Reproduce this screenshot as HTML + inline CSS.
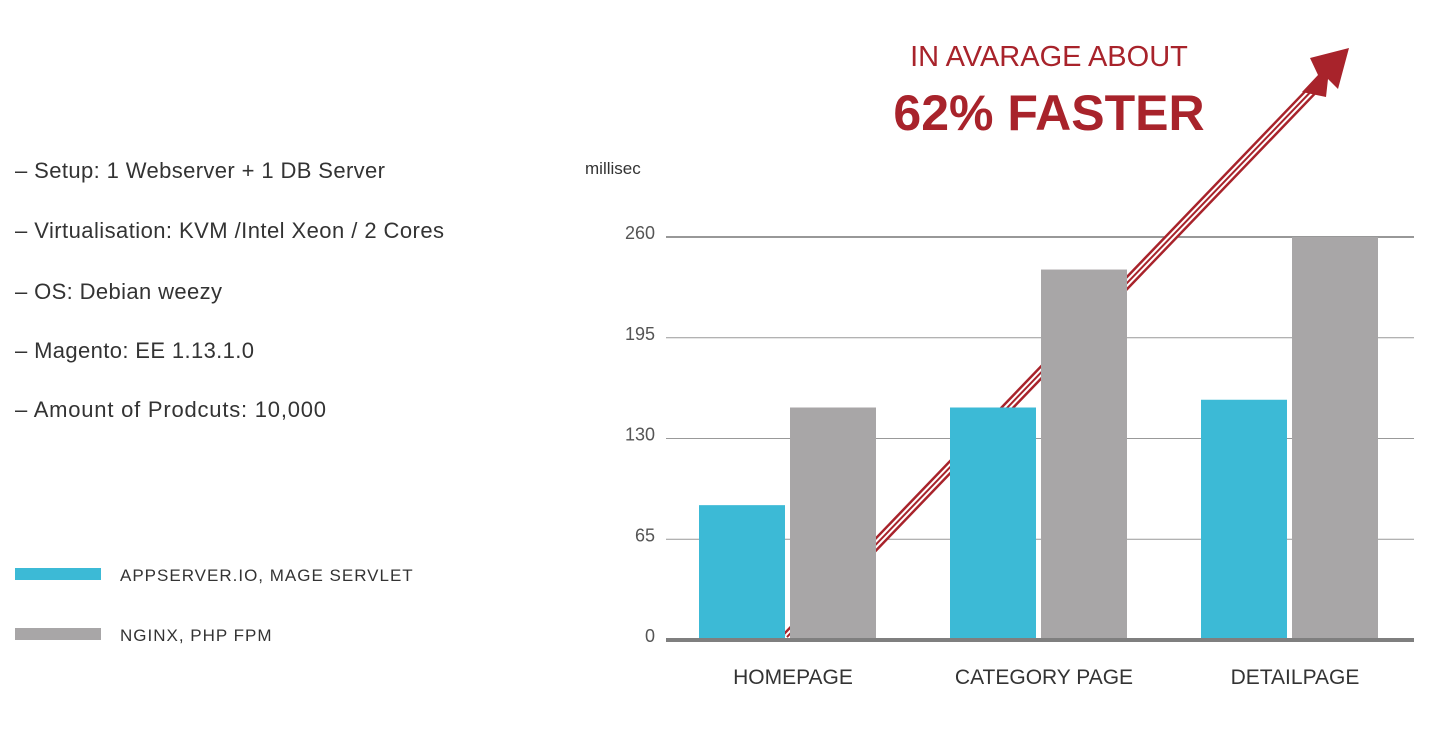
<!DOCTYPE html>
<html><head><meta charset="utf-8"><style>
body{margin:0;width:1435px;height:728px;background:#fff;font-family:"Liberation Sans",sans-serif;overflow:hidden}
svg text{font-family:"Liberation Sans",sans-serif}
</style></head><body>
<svg width="1435" height="728">
<g font-size="22" fill="#333">
<text x="15" y="178" textLength="370">–  Setup: 1 Webserver + 1 DB Server</text>
<text x="15" y="238" textLength="429">–  Virtualisation: KVM /Intel Xeon / 2 Cores</text>
<text x="15" y="299" textLength="207">–  OS: Debian weezy</text>
<text x="15" y="358" textLength="239">–  Magento: EE 1.13.1.0</text>
<text x="15" y="417" textLength="311">–  Amount of Prodcuts: 10,000</text>
</g>
<g font-size="17" fill="#333" letter-spacing="1">
<rect x="15" y="568" width="86" height="12" fill="#3cbad6"/>
<text x="120" y="581">APPSERVER.IO, MAGE SERVLET</text>
<rect x="15" y="628" width="86" height="12" fill="#a8a6a7"/>
<text x="120" y="641">NGINX, PHP FPM</text>
</g>
<text x="1049" y="66" text-anchor="middle" font-size="29" fill="#a8232b">IN AVARAGE ABOUT</text>
<text x="1049" y="130" text-anchor="middle" font-size="50" font-weight="bold" fill="#a8232b">62% FASTER</text>
<text x="585" y="174" font-size="17" fill="#333">millisec</text>
<g id="grid"></g>
<g id="arrow">
<line x1="787" y1="637" x2="1322" y2="80" stroke="#a8232b" stroke-width="11"/>
<line x1="787" y1="637" x2="1322" y2="80" stroke="#fff" stroke-width="6"/>
<line x1="787" y1="637" x2="1322" y2="80" stroke="#a8232b" stroke-width="2"/>
<polygon points="1349,48 1338,89 1328,79 1326,97 1302,92 1318,75 1310,58" fill="#a8232b"/>
</g>
<g id="bars"></g>
<rect x="666" y="638" width="748" height="4" fill="#7f7f7f"/>
<g id="xlabels" font-size="21" fill="#333"></g>
</svg>
<script>
const categories=["HOMEPAGE","CATEGORY PAGE","DETAILPAGE"];
const appserver=[87,150,155];
const nginx=[150,239,260];
const ticks=[0,65,130,195,260];
const NS="http://www.w3.org/2000/svg";
const y=v=>640-v*(403/260);
const grid=document.getElementById('grid'),bars=document.getElementById('bars'),xl=document.getElementById('xlabels');
ticks.forEach(t=>{
 if(t>0){const l=document.createElementNS(NS,'line');l.setAttribute('x1',666);l.setAttribute('x2',1414);l.setAttribute('y1',y(t));l.setAttribute('y2',y(t));l.setAttribute('stroke',t===260?'#777':'#999');l.setAttribute('stroke-width',t===260?1.5:1);
 
 
 grid.appendChild(l);}
 const tx=document.createElementNS(NS,'text');tx.setAttribute('x',655);tx.setAttribute('y',y(t)+2);tx.setAttribute('text-anchor','end');tx.setAttribute('font-size',18);tx.setAttribute('fill','#555');tx.textContent=t;
 
 
 grid.appendChild(tx);
});
categories.forEach((c,i)=>{
 const x0=699+i*251;
 [[appserver[i],'#3cbad6',0,'bar-appserver'],[nginx[i],'#a8a6a7',91,'bar-nginx']].forEach(([v,col,dx,nm])=>{
  const r=document.createElementNS(NS,'rect');r.setAttribute('x',x0+dx);r.setAttribute('y',y(v));r.setAttribute('width',86);r.setAttribute('height',640-y(v));r.setAttribute('fill',col);
  
  
  bars.appendChild(r);
 });
 const t=document.createElementNS(NS,'text');t.setAttribute('x',x0+94);t.setAttribute('y',684);t.setAttribute('text-anchor','middle');t.textContent=c;
 
 
 xl.appendChild(t);
});
</script>
</body></html>
